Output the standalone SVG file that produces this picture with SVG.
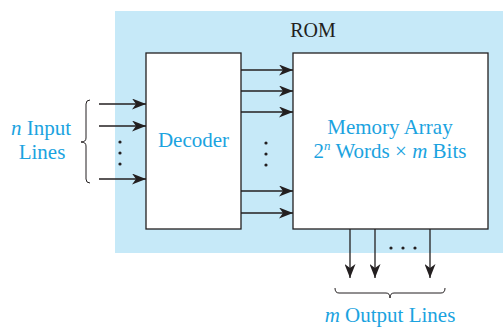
<svg xmlns="http://www.w3.org/2000/svg" width="503" height="327" viewBox="0 0 503 327">
<style>
.box{fill:#fff;stroke:#231f20;stroke-width:1.3}
.ln{stroke:#231f20;stroke-width:1.3;fill:none}
.br{stroke:#231f20;stroke-width:1;fill:none}
.t{font-family:"Liberation Serif","Times New Roman",serif;font-size:21px;fill:#1ba3e0}
.k{font-family:"Liberation Serif","Times New Roman",serif;font-size:20px;fill:#231f20}
.dot{fill:#231f20}
</style>
<defs>
<marker id="ah" markerWidth="14" markerHeight="11" refX="14" refY="5.5" orient="auto" markerUnits="userSpaceOnUse">
<path d="M0,0 L14,5.5 L0,11 L4,5.5 Z" fill="#231f20"/>
</marker>
</defs>
<rect id="rom" x="115" y="11" width="388" height="242" fill="#c6e9f8"/>
<text class="k" x="313" y="37" text-anchor="middle">ROM</text>
<g id="decoder">
<rect class="box" x="146" y="53" width="95" height="176"/>
<text class="t" x="193.5" y="147" text-anchor="middle">Decoder</text>
</g>
<g id="memory">
<rect class="box" x="293" y="53" width="195" height="176"/>
<text class="t" x="390" y="134" text-anchor="middle">Memory Array</text>
<text class="t" x="390" y="158" text-anchor="middle">2<tspan dy="-8" font-size="13" font-style="italic">n</tspan><tspan dy="8"> Words × </tspan><tspan font-style="italic">m</tspan> Bits</text>
</g>
<g id="inputs">
<text class="t" x="41" y="135" text-anchor="middle"><tspan font-style="italic">n</tspan> Input</text>
<text class="t" x="42" y="159" text-anchor="middle">Lines</text>
<path class="br" d="M90,100 Q86,100 86,104 L86,138 Q86,142 81,142 Q86,142 86,146 L86,179 Q86,183 90,183"/>
</g>
<g id="outputs">
<path class="br" d="M335,288 Q335,293 339,293 L386,293 Q390,293 390,298 Q390,293 394,293 L441,293 Q445,293 445,288"/>
<text class="t" x="390" y="322" text-anchor="middle"><tspan font-style="italic">m</tspan> Output Lines</text>
</g>
<g id="connectors">
<line class="ln" x1="99" y1="104" x2="146" y2="104" marker-end="url(#ah)"/>
<line class="ln" x1="99" y1="126" x2="146" y2="126" marker-end="url(#ah)"/>
<line class="ln" x1="99" y1="179" x2="146" y2="179" marker-end="url(#ah)"/>
<line class="ln" x1="241" y1="70" x2="293" y2="70" marker-end="url(#ah)"/>
<line class="ln" x1="241" y1="91" x2="293" y2="91" marker-end="url(#ah)"/>
<line class="ln" x1="241" y1="112" x2="293" y2="112" marker-end="url(#ah)"/>
<line class="ln" x1="241" y1="191" x2="293" y2="191" marker-end="url(#ah)"/>
<line class="ln" x1="241" y1="213" x2="293" y2="213" marker-end="url(#ah)"/>
<line class="ln" x1="350" y1="229" x2="350" y2="278" marker-end="url(#ah)"/>
<line class="ln" x1="375" y1="229" x2="375" y2="278" marker-end="url(#ah)"/>
<line class="ln" x1="430" y1="229" x2="430" y2="278" marker-end="url(#ah)"/>
</g>
<g id="dots">
<circle class="dot" cx="120" cy="142" r="1.6"/>
<circle class="dot" cx="120" cy="153" r="1.6"/>
<circle class="dot" cx="120" cy="164" r="1.6"/>
<circle class="dot" cx="266" cy="143" r="1.6"/>
<circle class="dot" cx="266" cy="154" r="1.6"/>
<circle class="dot" cx="266" cy="165" r="1.6"/>
<circle class="dot" cx="391" cy="248" r="1.6"/>
<circle class="dot" cx="403" cy="248" r="1.6"/>
<circle class="dot" cx="415" cy="248" r="1.6"/>
</g>
</svg>
